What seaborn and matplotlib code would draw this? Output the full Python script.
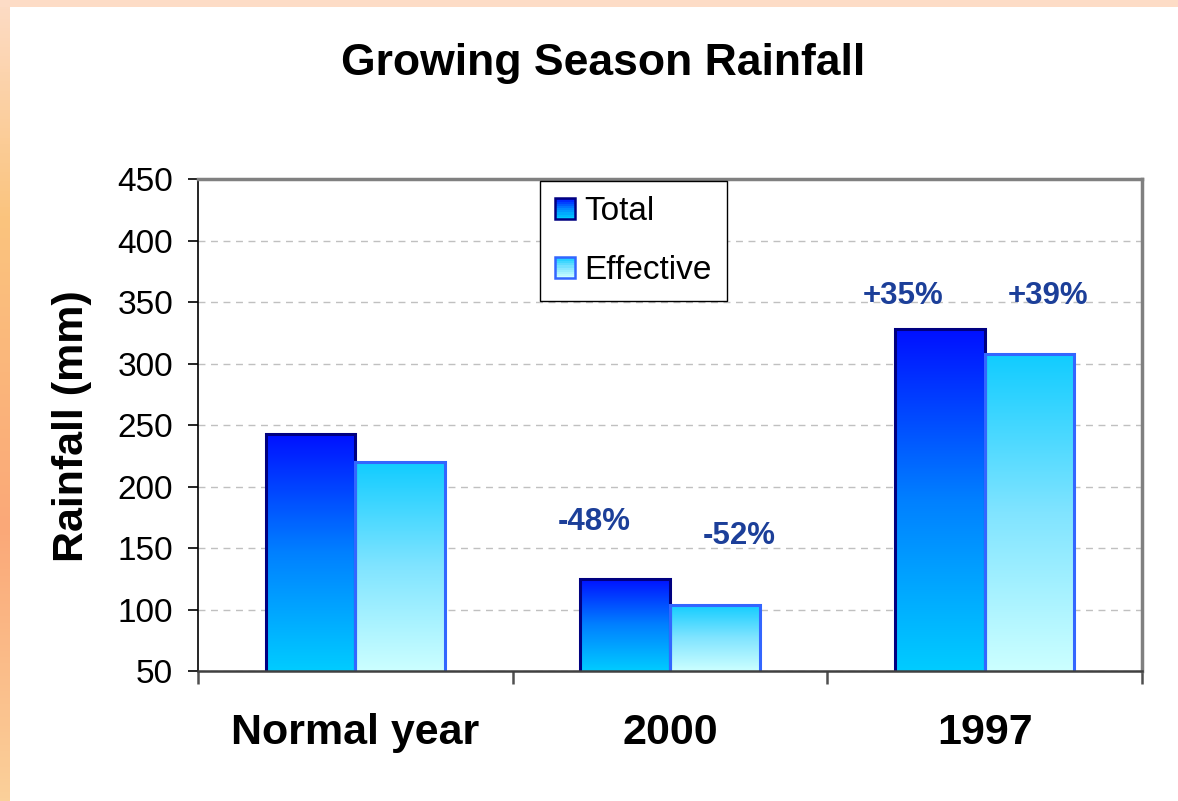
import numpy as np
import pandas as pd
import matplotlib
matplotlib.use("Agg")
import matplotlib.pyplot as plt
import seaborn as sns
from matplotlib.colors import LinearSegmentedColormap
from matplotlib.patches import Rectangle
from matplotlib.legend_handler import HandlerBase

# data
categories = ["Normal year", "2000", "1997"]
series = ["Total", "Effective"]
total_mm = [243, 125, 328]
effective_mm = [220, 104, 308]
change_labels = ["-48%", "-52%", "+35%", "+39%"]
y_ticks = [50, 100, 150, 200, 250, 300, 350, 400, 450]

# where the % labels sit (category units, mm)
label_pos = [(0.76, 171), (1.22, 160), (1.74, 355), (2.20, 355)]

df = pd.DataFrame({
    "year": categories * 2,
    "series": ["Total"] * 3 + ["Effective"] * 3,
    "mm": total_mm + effective_mm,
})

# gradient colours (bottom -> top) and edges
grad = {
    "Total": (["#00CCFF", "#0080FF", "#0010FF"], "#000080"),
    "Effective": (["#CCFFFF", "#80E4FF", "#10CCFF"], "#3366FF"),
}
cmaps = {k: LinearSegmentedColormap.from_list(k, v[0]) for k, v in grad.items()}

sns.set_style("ticks")
plt.rcParams["font.family"] = ["Liberation Sans", "DejaVu Sans"]
plt.rcParams["text.color"] = "black"
plt.rcParams["xtick.color"] = "black"
plt.rcParams["ytick.color"] = "black"

W, H = 1178, 801
fig = plt.figure(figsize=(W / 100, H / 100), dpi=100)
fig.patch.set_facecolor("white")

# orange frame strips (top + left)
bg = fig.add_axes([0, 0, 1, 1], zorder=-1)
bg.axis("off")
strip = LinearSegmentedColormap.from_list(
    "strip", [(0, "#FDDCC6"), (0.27, "#FAC47E"), (0.66, "#FBA878"), (1, "#FAD09A")])
bg.imshow(np.linspace(0, 1, 256).reshape(-1, 1), extent=[0, 10, H, 0],
          cmap=strip, aspect="auto", origin="upper")
bg.add_patch(Rectangle((0, 0), W, 7, color="#FDDCC6", lw=0))
bg.set_xlim(0, W)
bg.set_ylim(H, 0)

ax = fig.add_axes([198 / W, 1 - 671 / H, 944 / W, 492 / H])
sns.barplot(data=df, x="year", y="mm", hue="series", order=categories,
            hue_order=series, width=0.57, gap=0, errorbar=None,
            legend=False, ax=ax)

# gradient fill for each bar
g = np.linspace(0, 1, 256).reshape(-1, 1)
for p in ax.patches:
    x0, w, h = p.get_x(), p.get_width(), p.get_height()
    key = "Total" if x0 + w / 2 < round(x0 + w / 2) else "Effective"
    ax.imshow(g, extent=[x0, x0 + w, 50, h], origin="lower", aspect="auto",
              cmap=cmaps[key], zorder=1.5)
    p.set_facecolor("none")
    p.set_edgecolor(grad[key][1])
    p.set_linewidth(2.2)
    p.set_zorder(2)
ax.set_ylim(50, 450)
ax.set_xlim(-0.5, 2.5)

ax.set_xlabel("")
ax.set_ylabel("")
ax.set_yticks(y_ticks)
ax.tick_params(axis="y", length=7, width=1.2, pad=11, labelsize=24, colors="black")
ax.set_xticks([0, 1, 2])
ax.set_xticklabels(categories, fontsize=31, fontweight="bold", color="black")
ax.set_xticks([-0.5, 0.5, 1.5, 2.5], minor=True)
ax.tick_params(axis="x", which="major", length=0, pad=30)
ax.tick_params(axis="x", which="minor", length=9, width=1.8, color="#505050")

ax.set_axisbelow(True)
ax.yaxis.grid(True, linestyle=(0, (5, 4)), color="#C0C0C0", linewidth=1)

for s in ["top", "right"]:
    ax.spines[s].set_color("#808080")
    ax.spines[s].set_linewidth(2.5)
ax.spines["left"].set_color("black")
ax.spines["left"].set_linewidth(1.2)
ax.spines["bottom"].set_color("#404040")
ax.spines["bottom"].set_linewidth(1.8)

for txt, (lx, ly) in zip(change_labels, label_pos):
    ax.text(lx, ly, txt, ha="center", va="center", fontsize=22.5,
            fontweight="bold", color="#1C3F99", zorder=3)


class GradientHandler(HandlerBase):
    def __init__(self, cmap, edge):
        super().__init__()
        self.cmap = cmap
        self.edge = edge

    def create_artists(self, legend, orig_handle, xdescent, ydescent,
                       width, height, fontsize, trans):
        n = 10
        x, y = -xdescent, -ydescent
        arts = []
        for i in range(n):
            arts.append(Rectangle((x, y + i * height / n), width, height / n,
                                  facecolor=self.cmap(i / (n - 1)),
                                  edgecolor="none", transform=trans))
        arts.append(Rectangle((x, y), width, height, facecolor="none",
                              edgecolor=self.edge, lw=1.8, transform=trans))
        return arts


handles = [Rectangle((0, 0), 1, 1) for _ in series]
hmap = {h: GradientHandler(cmaps[s], grad[s][1]) for h, s in zip(handles, series)}
leg = ax.legend(handles, series, handler_map=hmap, loc="upper left",
                bbox_to_anchor=(540 / W, 1 - 181 / H), bbox_transform=fig.transFigure,
                fontsize=24, handlelength=0.6, handleheight=0.6, handletextpad=0.28,
                borderpad=0.45, labelspacing=0.85, borderaxespad=0,
                fancybox=False, framealpha=1, edgecolor="black")
leg.get_frame().set_linewidth(1)

fig.text(603 / W, 1 - 64 / H, "Growing Season Rainfall", ha="center",
         va="center", fontsize=32, fontweight="bold", color="black")
fig.text(72 / W, 1 - 426 / H, "Rainfall (mm)", ha="center", va="center",
         rotation=90, fontsize=31, fontweight="bold", color="black")

plt.savefig("out.png", dpi=100)
